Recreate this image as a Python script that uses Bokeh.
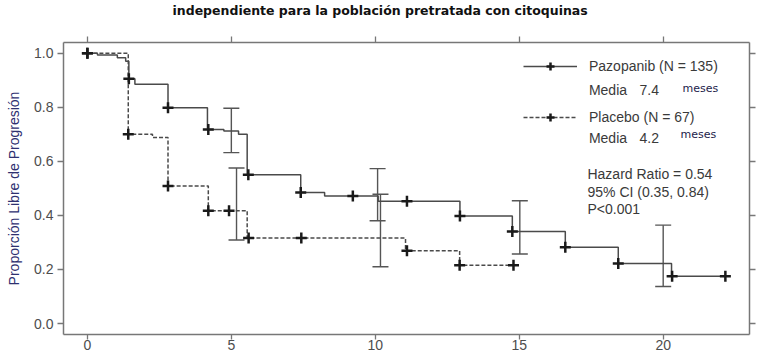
from bokeh.plotting import figure
from bokeh.models import (Range1d, LinearAxis, FixedTicker, Whisker, TeeHead,
                          ColumnDataSource, Legend, LegendItem, Label)
from bokeh.embed import file_html
from bokeh.resources import INLINE

# ---------------- data ----------------
title_text = "independiente para la población pretratada con citoquinas"
y_axis_title = "Proporción Libre de Progresión"

x_ticks = [0, 5, 10, 15, 20]
x_tick_labels = ["0", "5", "10", "15", "20"]
y_ticks = [0.0, 0.2, 0.4, 0.6, 0.8, 1.0]
y_tick_labels = ["0.0", "0.2", "0.4", "0.6", "0.8", "1.0"]

# Pazopanib Kaplan-Meier steps (time in months, proportion after the step)
paz_time = [0.0, 0.35, 1.04, 1.33, 1.44, 1.65, 2.80, 4.17, 4.74, 5.25, 5.55,
            7.41, 8.24, 10.10, 12.94, 14.76, 16.60, 18.44, 20.29, 22.16]
paz_surv = [1.0, 0.993, 0.983, 0.970, 0.905, 0.885, 0.798, 0.718, 0.712, 0.700,
            0.550, 0.485, 0.472, 0.452, 0.398, 0.340, 0.282, 0.222, 0.175, 0.175]
paz_cens_time = [0.0, 1.44, 2.80, 4.20, 5.59, 7.41, 9.22, 11.10, 12.94, 14.76,
                 16.60, 18.44, 20.31, 22.16]
paz_cens_surv = [1.0, 0.905, 0.798, 0.718, 0.550, 0.485, 0.472, 0.452, 0.398,
                 0.340, 0.282, 0.222, 0.175, 0.175]

# Placebo Kaplan-Meier steps
plc_time = [0.0, 1.42, 2.26, 2.80, 4.20, 5.55, 11.05, 12.93, 14.80]
plc_surv = [1.0, 0.700, 0.688, 0.509, 0.417, 0.316, 0.269, 0.216, 0.216]
plc_cens_time = [0.0, 1.42, 2.80, 4.20, 4.92, 5.60, 7.43, 11.10, 12.93, 14.80]
plc_cens_surv = [1.0, 0.700, 0.509, 0.417, 0.417, 0.316, 0.316, 0.269, 0.216, 0.216]

# 95% confidence intervals
paz_ci_time = [5.0, 10.08, 15.02, 20.0]
paz_ci_low = [0.632, 0.380, 0.257, 0.137]
paz_ci_high = [0.796, 0.573, 0.454, 0.364]
plc_ci_time = [5.18, 10.18]
plc_ci_low = [0.309, 0.210]
plc_ci_high = [0.575, 0.478]

paz_label = "Pazopanib (N = 135)"
plc_label = "Placebo (N = 67)"
median_word = "Media"
paz_median = "7.4"
plc_median = "4.2"
unit_word = "meses"
stats_lines = ["Hazard Ratio = 0.54", "95% CI (0.35, 0.84)", "P<0.001"]

# ---------------- styling ----------------
AX = "#777777"
TXT = "#3a3a3a"
TICK_TXT = "#4d4d4d"
CURVE = "#4a4a4a"
MARK = "#1a1a1a"
FONT = "Liberation Sans"

p = figure(width=760, height=355, output_backend="svg", toolbar_location=None,
           x_range=Range1d(-0.830, 22.998), y_range=Range1d(-0.0405, 1.0394),
           min_border_left=63, min_border_right=11, min_border_top=41,
           min_border_bottom=21, title=title_text)
p.grid.visible = False
p.outline_line_color = None
p.background_fill_color = "white"

p.title.text_font = "DejaVu Sans"
p.title.text_font_style = "bold"
p.title.text_font_size = "12.5px"
p.title.text_color = "#111111"
p.title.align = "left"
p.title.offset = 109
p.title.standoff = 0


def style_axis(ax, ticks, show_labels, tick_out, standoff=0):
    ax.ticker = FixedTicker(ticks=ticks)
    ax.axis_line_color = AX
    ax.axis_line_width = 1.5
    ax.major_tick_line_color = AX
    ax.major_tick_line_width = 1.3
    ax.major_tick_in = 0
    ax.major_tick_out = tick_out
    ax.minor_tick_line_color = None
    ax.major_label_standoff = standoff
    if show_labels:
        ax.major_label_text_font = FONT
        ax.major_label_text_font_size = "14px"
        ax.major_label_text_color = TICK_TXT
    else:
        ax.major_label_text_font_size = "1px"
        ax.major_label_text_color = None


xb = p.xaxis[0]
style_axis(xb, x_ticks, True, 5, 0)
xb.major_label_overrides = {t: l for t, l in zip(x_ticks, x_tick_labels)}

yl = p.yaxis[0]
style_axis(yl, y_ticks, True, 6, 4)
yl.major_label_overrides = {t: l for t, l in zip(y_ticks, y_tick_labels)}
yl.axis_label = y_axis_title
yl.axis_label_text_font = FONT
yl.axis_label_text_font_size = "14px"
yl.axis_label_text_font_style = "normal"
yl.axis_label_text_color = "#2e3070"
yl.axis_label_standoff = 9

# mirrored ticks on top and right
xt = LinearAxis()
style_axis(xt, x_ticks, False, 6, 0)
p.add_layout(xt, "above")
# invisible spacer axis that lifts the title towards the top edge
spacer = LinearAxis()
style_axis(spacer, x_ticks, False, 19, 0)
spacer.axis_line_color = None
spacer.major_tick_line_color = None
p.add_layout(spacer, "above")

yr = LinearAxis()
style_axis(yr, y_ticks, False, 6, 0)
p.add_layout(yr, "right")

# ---------------- curves ----------------
paz_line = p.step(paz_time, paz_surv, mode="after", line_color=CURVE, line_width=1.5)
plc_line = p.step(plc_time, plc_surv, mode="after", line_color=CURVE, line_width=1.5,
                  line_dash="4 2")

for t, lo, hi in [(paz_ci_time, paz_ci_low, paz_ci_high),
                  (plc_ci_time, plc_ci_low, plc_ci_high)]:
    src = ColumnDataSource(dict(t=t, lo=lo, hi=hi))
    w = Whisker(base="t", lower="lo", upper="hi", source=src, dimension="height",
                line_color="#555555", line_width=1.4,
                upper_head=TeeHead(size=16, line_color="#555555", line_width=1.4),
                lower_head=TeeHead(size=16, line_color="#555555", line_width=1.4))
    p.add_layout(w)

paz_marks = p.scatter(paz_cens_time, paz_cens_surv, marker="cross", size=11,
                      line_color=MARK, line_width=2.5)
plc_marks = p.scatter(plc_cens_time, plc_cens_surv, marker="cross", size=11,
                      line_color=MARK, line_width=2.5)

# ---------------- legend & annotations ----------------
legend = Legend(items=[LegendItem(label=paz_label, renderers=[paz_line, paz_marks]),
                       LegendItem(label=plc_label, renderers=[plc_line, plc_marks])],
                location=(460, 207), orientation="vertical",
                glyph_width=54, glyph_height=20, label_height=20, label_standoff=12,
                spacing=31, padding=0, margin=0, border_line_color=None,
                background_fill_alpha=0, label_text_font=FONT,
                label_text_font_size="14px", label_text_color=TXT)
p.add_layout(legend)


def add_text(x, y, txt, font=FONT, size="14px", color=TXT):
    p.add_layout(Label(x=x, y=y, text=txt, text_font=font, text_font_size=size,
                       text_color=color, text_align="left",
                       text_baseline="alphabetic"))


add_text(17.42, 0.8633, median_word)
add_text(19.18, 0.8633, paz_median)
add_text(20.67, 0.8706, unit_word, font="DejaVu Sans", size="11px", color="#22224a")
add_text(17.42, 0.6867, median_word)
add_text(19.18, 0.6867, plc_median)
add_text(20.60, 0.6992, unit_word, font="DejaVu Sans", size="11px", color="#22224a")
for yy, s in zip([0.5540, 0.4866, 0.4250], stats_lines):
    add_text(17.37, yy, s)

open("out.html", "w").write(file_html(p, INLINE))
